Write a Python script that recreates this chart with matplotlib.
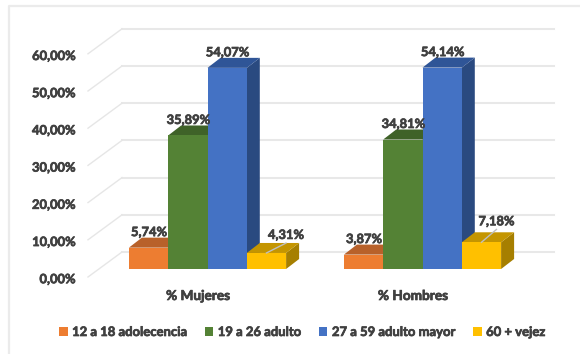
import matplotlib
matplotlib.use('Agg')
import matplotlib.pyplot as plt
import matplotlib.patheffects as pe
from matplotlib.patches import Polygon, Patch

plt.rcParams['font.family'] = ['Lato', 'DejaVu Sans']

# datos de la grafica
categories = ['% Mujeres', '% Hombres']
series_names = ['12 a 18 adolecencia', '19 a 26 adulto', '27 a 59 adulto mayor', '60 + vejez']
mujeres = [5.74, 35.89, 54.07, 4.31]
hombres = [3.87, 34.81, 54.14, 7.18]
y_ticks = [0, 10, 20, 30, 40, 50, 60]
y_labels = ['0,00%', '10,00%', '20,00%', '30,00%', '40,00%', '50,00%', '60,00%']
value_labels_m = ['5,74%', '35,89%', '54,07%', '4,31%']
value_labels_h = ['3,87%', '34,81%', '54,14%', '7,18%']

# colores: frente, tapa, lado
front_colors = ['#ED7D31', '#548235', '#4472C4', '#FFC000']
top_colors = ['#B8612A', '#3F6228', '#2F5597', '#C49500']
side_colors = ['#A85A24', '#375722', '#2A4A80', '#A67F00']
text_color = '#404040'
# trazo fino para dar el peso del texto original
heavy = [pe.withStroke(linewidth=0.5, foreground=text_color)]

W, H = 580, 354
GROUP_PX = 215.0   # distancia entre grupos
Y_PX = 3.72        # pixeles por cada 1%
X0_PX, Y0_PX = 207.5, 269.0


def px_x(p):
    return (p - X0_PX) / GROUP_PX


def px_y(p):
    return (Y0_PX - p) / Y_PX


fig = plt.figure(figsize=(W / 100, H / 100), dpi=100)
ax = fig.add_axes([0, 0, 1, 1])
ax.set_xlim(px_x(0), px_x(W))
ax.set_ylim(px_y(H), px_y(0))
ax.axis('off')

# marco exterior
ax.plot([px_x(9), px_x(9), px_x(W)], [px_y(H), px_y(6), px_y(6)], color='#EBEBEB', lw=1.6)

# rejilla de fondo y diagonales
wall_dy = (Y0_PX - 252) / Y_PX
floor_dy = (277 - Y0_PX) / Y_PX
for tick, lab in zip(y_ticks, y_labels):
    ax.plot([px_x(122), px_x(554)], [tick + wall_dy, tick + wall_dy], color='#E8E8E8', lw=1.5, zorder=1)
    ax.plot([px_x(88), px_x(122)], [tick - floor_dy, tick + wall_dy], color='#E6E6E6', lw=1.0, zorder=1)
    ax.text(px_x(76), tick - floor_dy - 0.6, lab, ha='right', va='center', fontsize=9.3, fontweight='bold',
            color=text_color, path_effects=heavy)

# barras con efecto 3D
bar_w = 39.3 / GROUP_PX
depth_x = 13 / GROUP_PX
depth_y = 10 / Y_PX
z = 2
for g, values in enumerate([mujeres, hombres]):
    for i, v in enumerate(values):
        left = g + (i - 2) * bar_w
        right = left + bar_w
        side = Polygon([(right, 0), (right + depth_x, depth_y), (right + depth_x, v + depth_y), (right, v)],
                       facecolor=side_colors[i], edgecolor='none', zorder=z)
        top = Polygon([(left, v), (left + depth_x, v + depth_y), (right + depth_x, v + depth_y), (right, v)],
                      facecolor=top_colors[i], edgecolor='none', zorder=z)
        front = Polygon([(left, 0), (left, v), (right, v), (right, 0)],
                        facecolor=front_colors[i], edgecolor='none', zorder=z + 0.5)
        ax.add_patch(side)
        ax.add_patch(top)
        ax.add_patch(front)
        z += 1

# etiquetas de valores
for g, (values, labels) in enumerate([(mujeres, value_labels_m), (hombres, value_labels_h)]):
    for i, (v, lab) in enumerate(zip(values, labels)):
        cx = g + (i - 1.5) * bar_w
        ty = v + depth_y
        if i == 3:
            # la etiqueta amarilla va desplazada con linea guia
            shift = 19.5 if g == 0 else 15
            lift = 8 if g == 0 else 11
            ax.plot([cx, cx + shift / GROUP_PX], [v, ty + (lift - 10) / Y_PX + 0.5], color='#BFBFBF', lw=1, zorder=30)
            ax.text(cx + shift / GROUP_PX, ty + lift / Y_PX, lab, ha='center', va='center', fontsize=9.3,
                    fontweight='bold', color=text_color, zorder=31, path_effects=heavy)
        else:
            ax.text(cx + 0.5 / GROUP_PX, ty + 5.5 / Y_PX, lab, ha='center', va='center', fontsize=9.3,
                    fontweight='bold', color=text_color, zorder=31, path_effects=heavy)

# nombres de categoria
for g, cat in enumerate(categories):
    ax.text(g - 9.5 / GROUP_PX, px_y(296), cat, ha='center', va='center', fontsize=9.8, fontweight='bold',
            color=text_color, path_effects=heavy)

# leyenda
handles = [Patch(facecolor=c, edgecolor='none', label=n) for c, n in zip(front_colors, series_names)]
leg = ax.legend(handles=handles, ncol=4, frameon=False, loc='center', bbox_to_anchor=(302 / W, 1 - 332 / H),
                labelcolor=text_color, prop={'weight': 'bold', 'size': 9.4}, handlelength=0.65, handleheight=0.65,
                handletextpad=0.35, columnspacing=1.35, borderpad=0)
for t in leg.get_texts():
    t.set_path_effects(heavy)

fig.savefig('out.png', dpi=100)
